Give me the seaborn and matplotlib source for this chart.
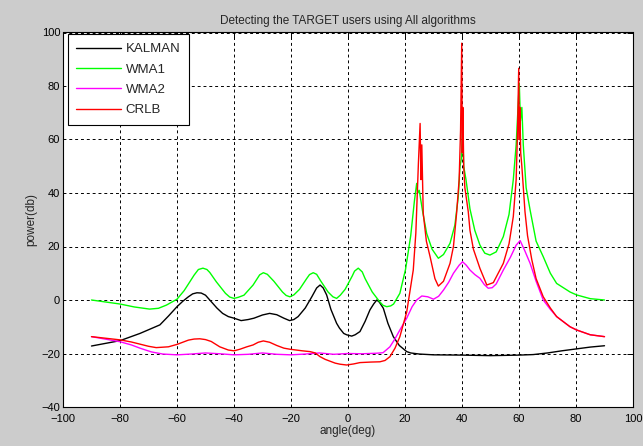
import numpy as np
import pandas as pd
import matplotlib
matplotlib.use("Agg")
import matplotlib.pyplot as plt
import seaborn as sns

# ---------------- data ----------------
kalman_x = [-90, -80, -73, -66, -63, -60, -58, -56, -54.5, -53, -51.5, -50, -48.5, -46, -44,
            -42, -40, -37.5, -35, -33, -30, -27.5, -25, -22.5, -20.5, -19, -17.5, -15,
            -12.7, -11, -9.8, -8.7, -7.5, -6, -4, -3, -1.5, -0.5, 1.3, 2.5, 4.2, 6, 7.7, 9,
            10.1, 11, 12.4, 14, 15.9, 18, 20.6, 22, 25, 30, 40, 50, 60, 65, 70, 75, 80, 85, 90]
kalman_y = [-17.2, -15.2, -12.5, -9.3, -6, -2.5, -0.5, 1.2, 2.3, 2.7, 2.6, 1.8, 0, -3, -5,
            -6.2, -6.8, -7.7, -7.3, -6.8, -5.6, -5, -5.5, -6.8, -7.7, -7.3, -6.2, -3,
            1.2, 4.5, 5.6, 4.5, 1.9, -3.5, -8.7, -10.5, -12.5, -13, -13.5, -13, -11.8, -8,
            -3.7, -1.5, 0, -0.8, -3.1, -8.7, -13.7, -17, -19.3, -19.8, -20.2, -20.5, -20.6,
            -20.8, -20.6, -20.4, -19.8, -19, -18.3, -17.6, -17.1]

wma1_x = [-90, -80, -75, -69.6, -66.5, -63.7, -60, -57.5, -55.5, -54, -52.5, -50.9, -49.5,
          -48.5, -46.2, -43, -41.5, -40, -38.5, -36.5, -33.3, -31, -29.7, -28.3, -26, -23,
          -21.7, -20.4, -19, -17, -14.5, -13.5, -12.2, -11, -9.5, -7, -5.3, -4, -2.7, -1,
          1.5, 2.3, 3.6, 5, 6, 8.5, 11, 12.3, 13.6, 15, 16, 18.2, 20.2, 22, 23.3, 24.1,
          24.5, 25, 26.2, 27.6, 29.5, 31.7, 33.5, 35.8, 37.5, 38.7, 39.3, 39.8, 40.2,
          40.6, 41.4, 42.8, 44.5, 46.3, 48, 49.8, 52, 54.5, 56.5, 58, 59, 59.8, 60.1,
          60.5, 61, 61.5, 62.5, 63.9, 66, 68.5, 71, 73.2, 77.9, 80.2, 85, 90]
wma1_y = [0, -1.5, -2.6, -3.4, -3.1, -1.9, 0.3, 3.5, 6.8, 9.3, 11.4, 11.9, 11.4,
          10.3, 6.8, 2.5, 1.1, 0.6, 1, 1.8, 5.6, 9.4, 10.2, 9.6, 7, 3,
          1.7, 1.2, 1.9, 4, 8, 9.5, 10.2, 9.6, 7, 3, 1.2, 0.6, 1.8, 4,
          9, 10.8, 11.9, 10.5, 8, 3, -0.5, -2, -2.5, -2.2, -1.5, 2.5, 11.5, 24, 37, 43.6,
          40, 41, 33, 24.9, 19, 15.6, 17, 21.2, 28, 38.6, 50, 53, 64.8,
          50, 45, 34, 26, 20.5, 17.5, 16.8, 18, 23.7, 32, 45, 58, 75, 81,
          67, 72, 58, 42, 33.6, 22, 16.2, 10, 6.2, 3, 1.9, 0.5, 0]

wma2_x = [-90, -80, -76, -73, -69, -65, -60, -55, -50, -45, -40, -35, -30, -25, -20, -15,
          -10, -5, 0, 5, 10, 12.3, 14.7, 16.5, 18.2, 20.6, 22.5, 24.1, 25.9, 28, 30, 31.8,
          33.5, 35.3, 37, 39, 40.2, 41.5, 42.8, 44.5, 46.3, 47.8, 49.2, 50.6, 52, 54.5, 57,
          59, 60.4, 62, 63.9, 66, 68.5, 71, 73.2, 77.9, 80.2, 85, 90]
wma2_y = [-13.7, -15.6, -16.8, -18, -19.4, -20.2, -20.5, -20.2, -19.8, -20.1, -20.5, -20.3,
          -19.8, -20.3, -20.5, -20.2, -19.8, -20.3, -20, -20.1, -19.9, -19.7, -17.5, -14.5,
          -11.2, -6.8, -2.5, 0, 1.5, 1.2, 0.3, 1.4, 3.7, 6.6, 10, 13, 14.3, 13, 11.2, 9.5,
          8.1, 5.8, 4.4, 4.6, 6, 11.2, 16, 20.5, 22.2, 18.5, 13.7, 7, 0, -3.5, -6.2, -10,
          -11.2, -13, -13.7]

crlb_x = [-90, -80, -76, -73, -70, -67.3, -63, -60, -58, -56, -54, -52, -50, -48, -45, -42,
          -40, -37.9, -35.5, -33.3, -31.5, -29.7, -27.5, -25, -22.5, -20.4, -16, -13.3,
          -11.5, -9.8, -8, -6, -4.5, -2.8, -0.5, 2, 4.2, 8, 11.2, 13, 14.7, 16.5,
          18.2, 20.6, 22.9, 23.8, 24.7, 25.3, 25.6, 25.9, 26.4, 27.5, 28.8, 30.5, 31.7,
          33.5, 35.8, 37, 38.1, 39, 39.5, 39.9, 40.1, 40.3, 40.6, 41, 42.2, 42.8, 44,
          46.3, 48.7, 51, 54.5, 56.5, 58, 59, 59.5, 59.9, 60.1, 60.3, 60.6, 61, 62.1, 63,
          64.5, 66, 68.5, 71, 73.2, 77.9, 80.2, 85, 90]
crlb_y = [-13.7, -14.9, -15.7, -16.5, -17.3, -17.8, -17.5, -16.6, -15.8, -15, -14.6, -14.5,
          -14.8, -15.5, -17.5, -18.7, -19, -18.4, -17.5, -16.8, -15.8, -15.3, -15.8, -17,
          -18, -18.4, -19, -19.3, -19.8, -21.2, -22.2, -23, -23.6, -24, -24.3, -23.9,
          -23.4, -23.2, -23.1, -22.6, -21.2, -18, -13.7, -4.5, 11.2, 25, 51, 66, 45, 58,
          32.4, 22, 16.2, 8, 5.2, 7, 13.7, 20, 32.4, 45, 63.6, 96, 55, 72, 50, 42, 33, 26,
          19, 11.8, 5.6, 6.5, 13.7, 21, 31.2, 45, 63.6, 86.6, 60, 72, 55, 50, 33, 24,
          15, 8, 1.2, -3, -6.2, -10, -11.2, -13, -13.7]

labels = ["KALMAN", "WMA1", "WMA2", "CRLB"]
colors = ["#000000", "#00ff00", "#ff00ff", "#ff0000"]
xticks = list(range(-100, 101, 20))
yticks = list(range(-40, 101, 20))

# ---------------- build long table ----------------
frames = []
for lab, xs, ys in zip(labels, [kalman_x, wma1_x, wma2_x, crlb_x],
                       [kalman_y, wma1_y, wma2_y, crlb_y]):
    frames.append(pd.DataFrame({"angle": xs, "power": ys, "algo": lab}))
df = pd.concat(frames, ignore_index=True)

sns.set_style("white")
plt.rcParams["font.family"] = ["Liberation Sans", "DejaVu Sans"]

fig = plt.figure(figsize=(6.43, 4.46), dpi=100, facecolor="#cccccc")
ax = fig.add_axes([63 / 643, 1 - 407 / 446, 570 / 643, 374.5 / 446])
ax.set_facecolor("white")

sns.lineplot(data=df, x="angle", y="power", hue="algo", hue_order=labels,
             palette=dict(zip(labels, colors)), estimator=None, sort=False,
             linewidth=1.0, ax=ax)

ax.set_xlim(-100, 100)
ax.set_ylim(-40, 100)
ax.set_xticks(xticks)
ax.set_yticks(yticks)
ax.grid(True, color="black", linestyle=(0, (3, 3)), linewidth=0.7)
ax.tick_params(direction="in", length=4, width=0.7, top=True, right=True,
               labelsize=8, colors="black", pad=2)
ax.tick_params(axis="x", pad=5)
for s in ax.spines.values():
    s.set_visible(True)
    s.set_color("black")
    s.set_linewidth(0.8)

ax.set_title("Detecting the TARGET users using All algorithms", fontsize=8.5, pad=6)
ax.set_xlabel("angle(deg)", fontsize=8.5, labelpad=1)
ax.set_ylabel("power(db)", fontsize=8.5, labelpad=3)

leg = ax.legend(loc="upper left", bbox_to_anchor=(0.008, 0.995), fontsize=9.5,
                frameon=True, fancybox=False, handlelength=3.4, handletextpad=0.35,
                labelspacing=0.62, borderpad=0.65, borderaxespad=0)
leg.get_frame().set_edgecolor("black")
leg.get_frame().set_linewidth(0.8)
leg.get_frame().set_alpha(1)
for h in leg.get_lines():
    h.set_linewidth(1.0)

fig.savefig("out.png", dpi=100, facecolor=fig.get_facecolor())
